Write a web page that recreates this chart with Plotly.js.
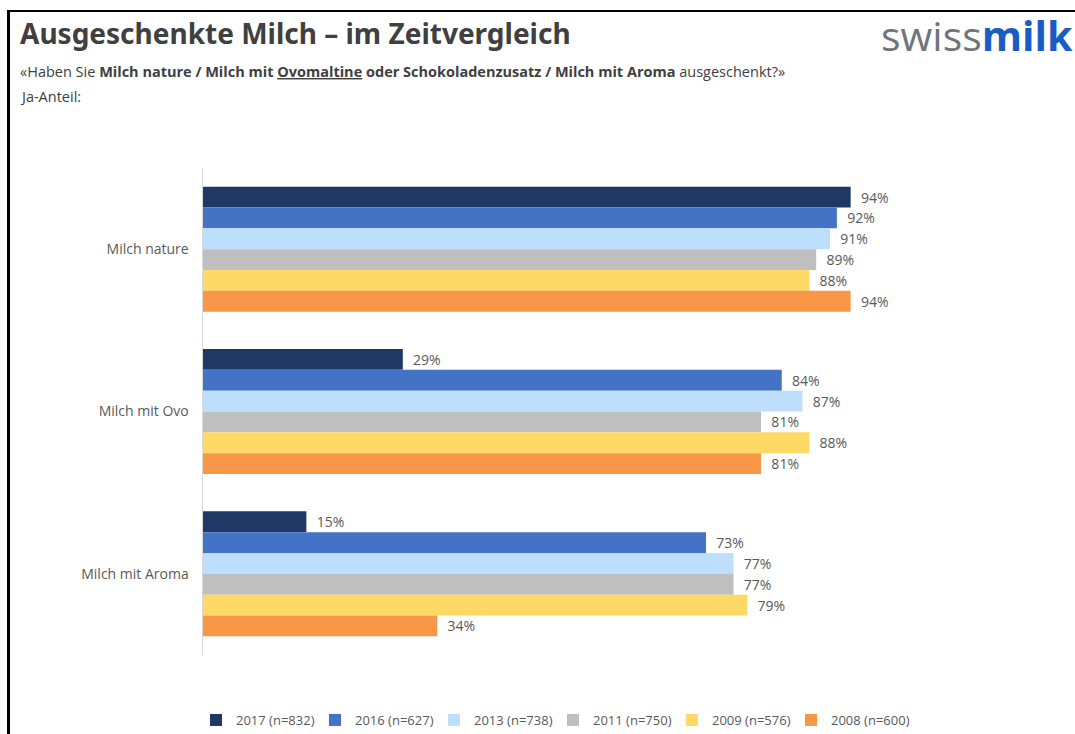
<!DOCTYPE html>
<html>
<head>
<meta charset="utf-8">
<script src="https://cdn.plot.ly/plotly-3.0.1.min.js"></script>
<style>
  html, body { margin: 0; padding: 0; background: #ffffff; }
  #wrap { position: relative; width: 1075px; height: 734px; overflow: hidden; }
  #frame { position: absolute; left: 7px; top: 10px; width: 1100px; height: 800px;
           border-left: 3px solid #000; border-top: 2px solid #000; pointer-events: none; }
  #chart { position: absolute; left: 0; top: 0; width: 1075px; height: 734px; }
</style>
</head>
<body>
<div id="wrap">
  <div id="chart"></div>
  <div id="frame"></div>
</div>
<script>
const categories = ["Milch nature", "Milch mit Ovo", "Milch mit Aroma"];
const seriesNames = ["2017 (n=832)", "2016 (n=627)", "2013 (n=738)", "2011 (n=750)", "2009 (n=576)", "2008 (n=600)"];
const values2017 = [94, 29, 15];
const values2016 = [92, 84, 73];
const values2013 = [91, 87, 77];
const values2011 = [89, 81, 77];
const values2009 = [88, 88, 79];
const values2008 = [94, 81, 34];
const seriesColors = ["#1f3864", "#4472c4", "#bddefd", "#bfbfbf", "#fed966", "#f79747"];

const allValues = [values2017, values2016, values2013, values2011, values2009, values2008];

const traces = allValues.map((vals, i) => ({
  type: "bar",
  orientation: "h",
  name: seriesNames[i],
  y: categories,
  x: vals,
  marker: { color: seriesColors[i], line: { width: 0 } },
  text: vals.map(v => "\u00a0\u00a0" + v + "%"),
  textposition: "outside",
  cliponaxis: false,
  textfont: { family: "Open Sans, sans-serif", size: 14, color: "#595959" },
  hoverinfo: "x+name"
}));

const PW = 689, PH = 487, ML = 203, MT = 168;
const px = v => (v - ML) / PW;
const py = v => 1 - (v - MT) / PH;

const layout = {
  width: 1075,
  height: 734,
  margin: { l: ML, r: 1075 - ML - PW, t: MT, b: 734 - MT - PH, autoexpand: false },
  paper_bgcolor: "#ffffff",
  plot_bgcolor: "#ffffff",
  barmode: "group",
  bargap: 0.23,
  bargroupgap: 0,
  showlegend: true,
  legend: {
    orientation: "h",
    x: px(196), xanchor: "left",
    y: py(720), yanchor: "middle",
    traceorder: "normal",
    font: { family: "Open Sans, sans-serif", size: 13, color: "#595959" },
    itemwidth: 30,
    entrywidth: 74,
    itemclick: false
  },
  xaxis: {
    range: [0, 100],
    showgrid: false,
    zeroline: false,
    showline: false,
    showticklabels: false,
    ticks: "",
    fixedrange: true
  },
  yaxis: {
    autorange: "reversed",
    showgrid: false,
    zeroline: false,
    showline: true,
    linecolor: "#d9d9d9",
    linewidth: 1.5,
    ticks: "",
    ticklabelstandoff: 10,
    tickfont: { family: "Open Sans, sans-serif", size: 14, color: "#595959" },
    fixedrange: true
  },
  annotations: [
    {
      xref: "paper", yref: "paper",
      x: px(18), y: py(33),
      xanchor: "left", yanchor: "middle",
      showarrow: false,
      text: "<b>Ausgeschenkte Milch – im Zeitvergleich</b>",
      font: { family: "Noto Sans, sans-serif", size: 28, color: "#404040" }
    },
    {
      xref: "paper", yref: "paper",
      x: px(18), y: py(72),
      xanchor: "left", yanchor: "middle",
      showarrow: false,
      text: "«Haben Sie <b>Milch nature / Milch mit <span style=\"text-decoration:underline\">Ovomaltine</span> oder Schokoladenzusatz / Milch mit Aroma</b> ausgeschenkt?»",
      font: { family: "Open Sans, sans-serif", size: 14.5, color: "#404040" }
    },
    {
      xref: "paper", yref: "paper",
      x: px(18), y: py(96),
      xanchor: "left", yanchor: "middle",
      showarrow: false,
      text: "Ja-Anteil:",
      font: { family: "Open Sans, sans-serif", size: 14.5, color: "#404040" }
    },
    {
      xref: "paper", yref: "paper",
      x: px(879), y: py(35),
      xanchor: "left", yanchor: "middle",
      showarrow: false,
      text: "<span style=\"color:#6e757c\">swiss</span><b><span style=\"color:#1a5bc4\">milk</span></b>",
      font: { family: "Open Sans, sans-serif", size: 41, color: "#6e757c" }
    }
  ]
};

Plotly.newPlot("chart", traces, layout, { displayModeBar: false, staticPlot: true });
</script>
</body>
</html>
